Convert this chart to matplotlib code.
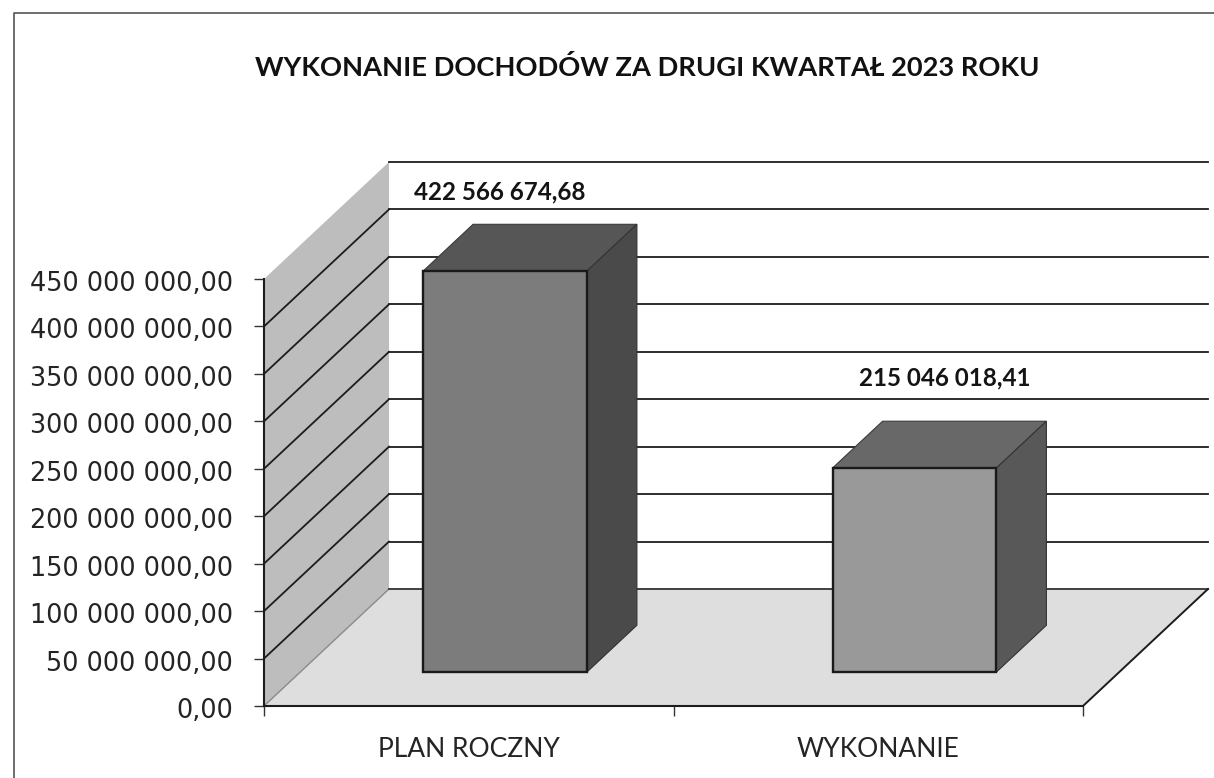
import matplotlib
matplotlib.use("Agg")
import matplotlib.pyplot as plt
from matplotlib.lines import Line2D
from matplotlib.patches import Polygon
from matplotlib.transforms import ScaledTranslation

# ---- data ----
categories = ["PLAN ROCZNY", "WYKONANIE"]
values = [422566674.68, 215046018.41]
value_labels = ["422 566 674,68", "215 046 018,41"]
y_ticks = [0, 50e6, 100e6, 150e6, 200e6, 250e6, 300e6, 350e6, 400e6, 450e6]
y_tick_labels = ["0,00", "50 000 000,00", "100 000 000,00", "150 000 000,00",
                 "200 000 000,00", "250 000 000,00", "300 000 000,00",
                 "350 000 000,00", "400 000 000,00", "450 000 000,00"]
title = "WYKONANIE DOCHODÓW ZA DRUGI KWARTAŁ 2023 ROKU"

# ---- layout (pixels of the 1214x778 canvas) ----
W, H = 1214, 778
PX_LEFT, PX_RIGHT, PX_BOTTOM, PX_TOP = 264, 1083, 706, 279
DEPTH_X, DEPTH_Y = 125, 117
D_FRONT, D_BACK = 0.29, 0.69
BAR_WIDTH = 0.40
YMAX = 450e6
XMAX = 2.0

fig = plt.figure(figsize=(W / 100, H / 100), dpi=100, facecolor="white")
ax = fig.add_axes([PX_LEFT / W, 1 - PX_BOTTOM / H,
                   (PX_RIGHT - PX_LEFT) / W, (PX_BOTTOM - PX_TOP) / H])
ax.set_xlim(0, XMAX)
ax.set_ylim(0, YMAX)
ax.patch.set_visible(False)

ux = XMAX / (PX_RIGHT - PX_LEFT)
uy = YMAX / (PX_BOTTOM - PX_TOP)


def proj(x, y, d):
    """Oblique projection of (category x, value y, depth d) to data coordinates."""
    return x + d * DEPTH_X * ux, y + d * DEPTH_Y * uy


def face(pts, color, z, edge="#1a1a1a", lw=1.0):
    ax.add_patch(Polygon([proj(*p) for p in pts], closed=True, facecolor=color,
                         edgecolor=edge, linewidth=lw, zorder=z, clip_on=False,
                         joinstyle="miter"))


def line(p, q, color="#1c1c1c", lw=1.5, z=2):
    a, b = proj(*p), proj(*q)
    ax.add_line(Line2D([a[0], b[0]], [a[1], b[1]], color=color, linewidth=lw,
                       zorder=z, clip_on=False))


# side wall and floor
face([(0, 0, 0), (0, 0, 1), (0, YMAX, 1), (0, YMAX, 0)], "#bdbdbd", 1, edge="none", lw=0)
face([(0, 0, 0), (XMAX, 0, 0), (XMAX, 0, 1), (0, 0, 1)], "#dedede", 3, edge="none", lw=0)

# gridlines: side wall + back wall
for v in y_ticks[1:]:
    if v < YMAX:
        line((0, v, 0), (0, v, 1), lw=1.3)
    line((0, v, 1), (XMAX, v, 1), lw=1.3)

# floor edges
line((0, 0, 0), (0, 0, 1), color="#8a8a8a", lw=1.0, z=4)
line((0, 0, 1), (XMAX, 0, 1), color="#333333", lw=1.3, z=4)
line((XMAX, 0, 0), (XMAX, 0, 1), color="#1c1c1c", lw=1.4, z=4)

# bars
front_colors = ["#7c7c7c", "#999999"]
top_colors = ["#565656", "#686868"]
side_colors = ["#4a4a4a", "#585858"]
for i, v in enumerate(values):
    x0 = i + 0.5 - BAR_WIDTH / 2
    x1 = i + 0.5 + BAR_WIDTH / 2
    face([(x0, v, D_FRONT), (x1, v, D_FRONT), (x1, v, D_BACK), (x0, v, D_BACK)],
         top_colors[i], 5, edge="#3a3a3a", lw=0.8)
    face([(x1, 0, D_FRONT), (x1, 0, D_BACK), (x1, v, D_BACK), (x1, v, D_FRONT)],
         side_colors[i], 5, edge="#333333", lw=0.8)
    face([(x0, 0, D_FRONT), (x1, 0, D_FRONT), (x1, v, D_FRONT), (x0, v, D_FRONT)],
         front_colors[i], 6, lw=1.7)

# data labels
label_offsets = [(-55, 32), (-20, 43.5)]
for i, v in enumerate(values):
    ax.annotate(value_labels[i], xy=proj(i + 0.5, v, D_BACK),
                xytext=label_offsets[i], textcoords="offset pixels",
                ha="center", va="center", fontsize=17.4, fontweight="bold",
                family="Lato", color="#141414", annotation_clip=False)

# axes
for s in ("top", "right"):
    ax.spines[s].set_visible(False)
for s in ("left", "bottom"):
    ax.spines[s].set_color("#1c1c1c")
    ax.spines[s].set_linewidth(1.5)
    ax.spines[s].set_zorder(7)

ax.set_yticks(y_ticks, y_tick_labels, family="DejaVu Sans", fontsize=18.4, color="#242424")
ax.tick_params(axis="y", length=7.2, width=1.0, color="#333333", pad=15)
shift = ScaledTranslation(0, -2 / 100, fig.dpi_scale_trans)
for lab in ax.get_yticklabels():
    lab.set_transform(lab.get_transform() + shift)
ax.set_xticks([0, 1, 2], ["", "", ""])
ax.tick_params(axis="x", which="major", length=7.2, width=1.0, color="#333333")
ax.set_xticks([0.5, 1.5], categories, minor=True, family="Lato", fontsize=19, color="#242424")
ax.tick_params(axis="x", which="minor", length=0, pad=22)

fig.text(647 / W, 1 - 68 / H, title, ha="center", va="center", fontsize=19.6,
         fontweight="bold", family="Lato", color="#111111")

# outer chart frame (only left and top survive in the scan)
fig.add_artist(Line2D([14 / W, 14 / W, 1], [0, 1 - 13 / H, 1 - 13 / H],
                      color="#555555", linewidth=1.2))

fig.savefig("out.png", dpi=100, facecolor="white")
